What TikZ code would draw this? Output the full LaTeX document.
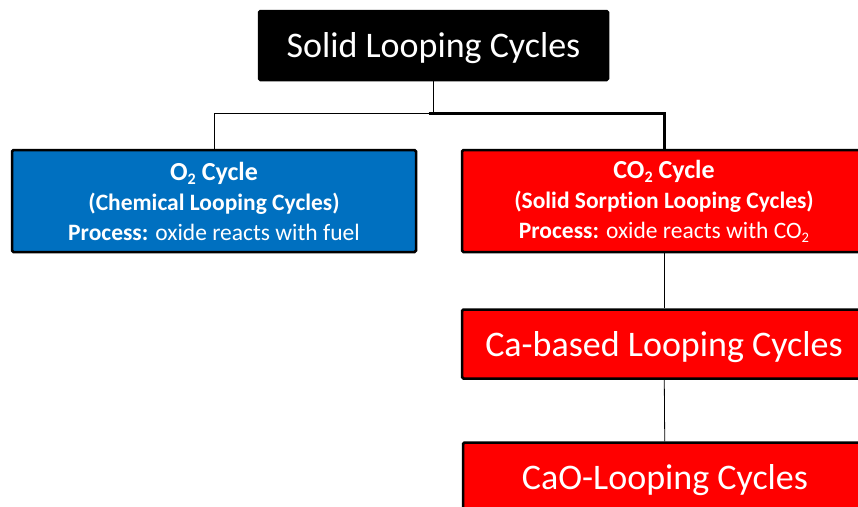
\documentclass[tikz,border=0pt]{standalone}
\usepackage{fontspec}
\setmainfont{Carlito}[Ligatures=NoCommon]
\usetikzlibrary{positioning}
\definecolor{cycblue}{HTML}{0070C0}
\definecolor{cycred}{HTML}{FF0000}
\newcommand{\lowidx}[1]{\raisebox{-0.35ex}{\fontsize{0.62em}{1em}\selectfont #1}}
\begin{document}
\begin{tikzpicture}[x=1pt,y=-1pt,
    box/.style={draw=black,line width=2.5pt,rounded corners=1.5pt,text=white,align=center,inner sep=0pt,minimum width=404pt},
    topbox/.style={box,fill=black,minimum width=349pt,minimum height=69pt,text depth=0pt,font=\fontsize{36}{40}\selectfont},
    cyclebox/.style={box,minimum height=102pt,font=\fontsize{23.5}{30}\selectfont},
    familybox/.style={box,fill=cycred,minimum height=69pt,text depth=0pt,font=\fontsize{36}{42}\selectfont},
    link/.style={line width=0.8pt},
    mainlink/.style={line width=3pt}]
    \clip (0,0) rectangle (858,506);
    \fill[white] (0,0) rectangle (858,506);
    %% Boxes
    \node[topbox] (slc) at (433.5,45.5) {Solid Looping Cycles};
    \node[cyclebox,fill=cycblue] (o2) at (214,201) {{\fontsize{26}{30}\selectfont\textbf{O\lowidx{2} Cycle}}\\\textbf{(Chemical Looping Cycles)}\\\textbf{Process:} oxide reacts with fuel};
    \node[cyclebox,fill=cycred] (co2) at (664,201) {{\fontsize{26}{30}\selectfont\textbf{CO\lowidx{2} Cycle}}\\\textbf{(Solid Sorption Looping Cycles)}\\\textbf{Process:} oxide reacts with CO\lowidx{2}};
    \node[familybox] (ca) at (664,344) {Ca-based Looping Cycles};
    \node[familybox] (cao) at (665,477) {CaO-Looping Cycles};
    %% Connectors
    \draw[link] (slc.south) -- ++(0,32) coordinate (split);
    \draw[link] (split) -| (o2.north);
    \draw[mainlink] ([xshift=-5pt]split) -| (co2.north);
    \draw[link] (co2) -- (ca);
    \draw[link] (ca) -- (cao);
\end{tikzpicture}
\end{document}
